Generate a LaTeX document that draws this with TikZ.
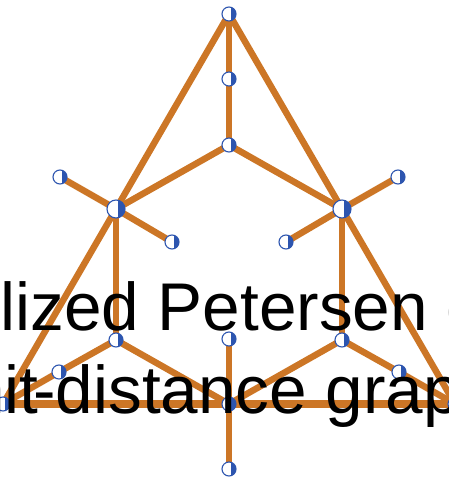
\documentclass[tikz,border=0pt]{standalone}
\usepackage{fontspec}
\setmainfont{Liberation Sans}
\usetikzlibrary{backgrounds}
\definecolor{edgeor}{RGB}{204,118,38}
\definecolor{vblue}{RGB}{45,85,175}
\tikzset{
  edge/.style={draw=edgeor, line width=6.5pt},
  baseedge/.style={draw=edgeor, line width=8.5pt},
  vtx/.style={circle, minimum size=14pt, inner sep=0pt, fill=white, draw=vblue, line width=1.1pt,
    path picture={\fill[vblue] ([xshift=1.5pt]path picture bounding box.north) rectangle (path picture bounding box.south east);}},
  bigvtx/.style={vtx, minimum size=18pt},
  lbl/.style={anchor=base west, inner sep=0pt, font=\fontsize{67.5}{80}\selectfont, text=black}
}
\begin{document}
\begin{tikzpicture}[x=1pt,y=-1pt]
\useasboundingbox (0,0) rectangle (449,484);
\clip (0,0) rectangle (449,484);
% vertices
\node[vtx] (A) at (229,14) {};
\node[vtx] (B) at (229,79) {};
\node[vtx] (C) at (229,145) {};
\node[vtx] (D) at (60,177) {};
\node[bigvtx] (E) at (116,209) {};
\node[vtx] (F) at (172,242) {};
\node[vtx] (G) at (398,177) {};
\node[bigvtx] (H) at (342,209) {};
\node[vtx] (I) at (286,242) {};
\node[vtx] (J) at (116,340) {};
\node[vtx] (K) at (229,339) {};
\node[vtx] (L) at (342,340) {};
\node[vtx] (M) at (59,372) {};
\node[vtx] (N) at (399,372) {};
\node[vtx] (O) at (229,404) {};
\node[vtx] (P) at (3,404) {};
\node[vtx] (Q) at (455,404) {};
\node[vtx] (R) at (229,469) {};
% edges
\begin{scope}[on background layer]
\draw[edge] (A.center) -- (B.center) -- (C.center);
\draw[edge] (A.center) -- (E.center) -- (P.center);
\draw[edge] (A.center) -- (H.center) -- (Q.center);
\draw[edge] (C.center) -- (E.center);
\draw[edge] (C.center) -- (H.center);
\draw[edge] (D.center) -- (E.center) -- (F.center);
\draw[edge] (G.center) -- (H.center) -- (I.center);
\draw[edge] (E.center) -- (J.center);
\draw[edge] (H.center) -- (L.center);
\draw[edge] (P.center) -- (M.center) -- (J.center) -- (O.center);
\draw[edge] (Q.center) -- (N.center) -- (L.center) -- (O.center);
\draw[edge] (K.center) -- (O.center) -- (R.center);
\draw[baseedge] (P.center) -- (O.center);
\draw[baseedge] (O.center) -- (Q.center);
\end{scope}
% text
\node[lbl] (t1) at (157.7,330) {\llap{alized }Petersen\rlap{ g}};
\node[lbl] (t2) at (55.7,413) {\llap{nit\kern-5pt-}distance\rlap{ grap}};
\end{tikzpicture}
\end{document}
